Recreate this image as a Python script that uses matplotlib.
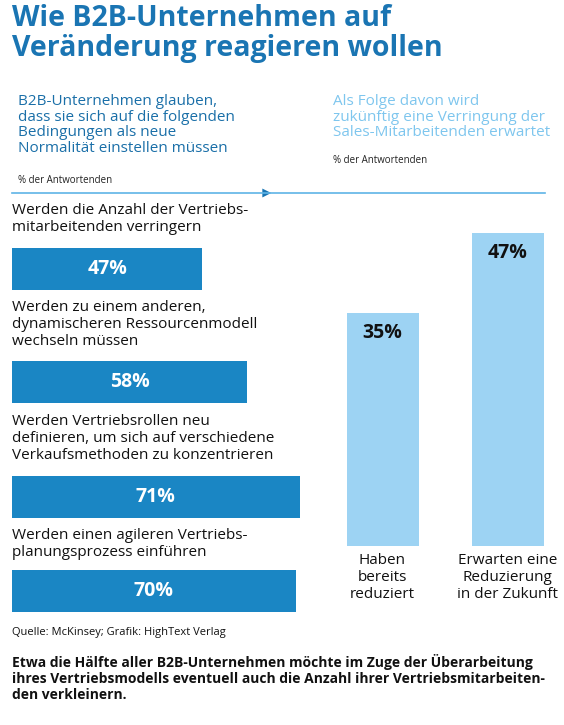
import matplotlib
matplotlib.use("Agg")
import matplotlib.pyplot as plt
from matplotlib.patches import FancyArrowPatch

plt.rcParams['font.family'] = ['Open Sans', 'DejaVu Sans']

W, H = 564, 725
left_labels = ["Werden die Anzahl der Vertriebs-\nmitarbeitenden verringern",
               "Werden zu einem anderen,\ndynamischeren Ressourcenmodell\nwechseln müssen",
               "Werden Vertriebsrollen neu\ndefinieren, um sich auf verschiedene\nVerkaufsmethoden zu konzentrieren",
               "Werden einen agileren Vertriebs-\nplanungsprozess einführen"]
left_values = [47, 58, 71, 70]
right_labels = ["Haben\nbereits\nreduziert", "Erwarten eine\nReduzierung\nin der Zukunft"]
right_values = [35, 47]

DARK = "#1a86c4"
LIGHT = "#9dd3f3"
TITLE = "#1a75b3"

fig = plt.figure(figsize=(W/100, H/100), dpi=100)
def fx(x): return x / W
def fy(y): return 1 - y / H

fig.text(fx(12), fy(4), "Wie B2B-Unternehmen auf\nVeränderung reagieren wollen", color=TITLE,
         fontsize=20.5, fontweight='bold', va='top', ha='left', linespacing=1.05)
fig.text(fx(18), fy(94), "B2B-Unternehmen glauben,\ndass sie sich auf die folgenden\nBedingungen als neue\nNormalität einstellen müssen",
         color="#1a6fa8", fontsize=11, va='top', linespacing=1.05)
fig.text(fx(18), fy(175), "% der Antwortenden", fontsize=7, va='top', color='#222')
fig.text(fx(333), fy(94), "Als Folge davon wird\nzukünftig eine Verringung der\nSales-Mitarbeitenden erwartet",
         color="#7ec6ee", fontsize=11, va='top', linespacing=1.05)
fig.text(fx(333), fy(155), "% der Antwortenden", fontsize=7, va='top', color='#222')

fig.add_artist(plt.Line2D([fx(12), fx(545)], [fy(193), fy(193)], color="#5fb4e6", lw=1.2))
fig.add_artist(FancyArrowPatch((fx(255), fy(193)), (fx(274), fy(193)), transform=fig.transFigure,
                               arrowstyle='-|>', mutation_scale=16, color=TITLE, lw=0))

axL = fig.add_axes([fx(12), fy(625), 405/W, (625-200)/H])
centers = [269, 382, 497, 591]
lab_tops = [203, 300, 414, 528]
axL.set_xlim(0, 100)
axL.set_ylim(625, 200)
axL.barh(centers, left_values, height=42, color=DARK)
for c, v in zip(centers, left_values):
    axL.text(v/2, c, f"{v}%", color='white', fontsize=14, fontweight='bold', ha='center', va='center')
for t, l in zip(lab_tops, left_labels):
    axL.text(0, t, l, fontsize=11, va='top', ha='left', color='#111', linespacing=1.2)
axL.axis('off')

axR = fig.add_axes([fx(330), fy(546), 230/W, (546-200)/H])
axR.set_xlim(0, 230)
axR.set_ylim(0, (546-200)/6.65)
xs = [52.5, 177.5]
axR.bar(xs, right_values, width=72, color=LIGHT)
for x, v in zip(xs, right_values):
    axR.text(x, v - 1.5, f"{v}%", fontsize=14, fontweight='bold', ha='center', va='top', color='#111')
axR.axis('off')
for x, l in zip([382.5, 507.5], right_labels):
    fig.text(fx(x), fy(553), l, fontsize=11, ha='center', va='top', color='#111', linespacing=1.2)

fig.text(fx(12), fy(627), "Quelle: McKinsey; Grafik: HighText Verlag", fontsize=8, va='top', color='#111')
fig.text(fx(12), fy(654), "Etwa die Hälfte aller B2B-Unternehmen möchte im Zuge der Überarbeitung\nihres Vertriebsmodells eventuell auch die Anzahl ihrer Vertriebsmitarbeiten-\nden verkleinern.",
         fontsize=10, fontweight='bold', va='top', color='#111', linespacing=1.2)

fig.savefig("out.png", dpi=100)
